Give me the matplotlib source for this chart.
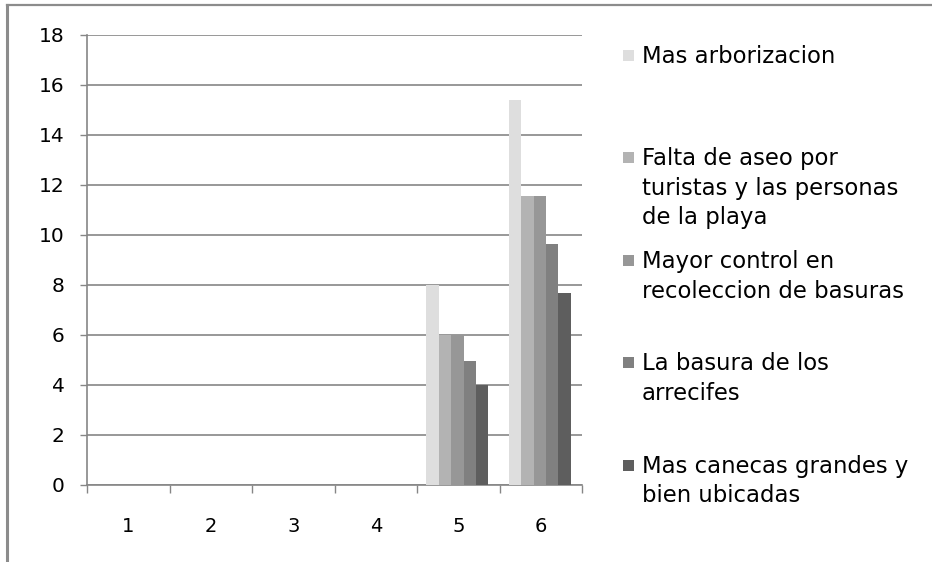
import numpy as np
import matplotlib
matplotlib.use("Agg")
import matplotlib.pyplot as plt
from matplotlib.lines import Line2D
from matplotlib.patches import Rectangle

# survey answers per group (values in %)
groups = ["1", "2", "3", "4", "5", "6"]
mas_arborizacion = [0, 0, 0, 0, 8.0, 15.4]
falta_aseo = [0, 0, 0, 0, 6.0, 11.55]
mayor_control = [0, 0, 0, 0, 6.0, 11.55]
basura_arrecifes = [0, 0, 0, 0, 4.95, 9.65]
mas_canecas = [0, 0, 0, 0, 4.0, 7.7]

series_labels = [
    "Mas arborizacion",
    "Falta de aseo por\nturistas y las personas\nde la playa",
    "Mayor control en\nrecoleccion de basuras",
    "La basura de los\narrecifes",
    "Mas canecas grandes y\nbien ubicadas",
]
series_values = [mas_arborizacion, falta_aseo, mayor_control,
                 basura_arrecifes, mas_canecas]
colors = ["#dedede", "#b3b3b3", "#979797", "#808080", "#5e5e5e"]

W, H = 932, 562
fig = plt.figure(figsize=(W / 100, H / 100), dpi=100)
ax = fig.add_axes([87 / W, 1 - 485 / H, (582 - 87) / W, (485 - 35) / H])

x = np.arange(1, len(groups) + 1)
bw = 0.15
for i, (vals, col) in enumerate(zip(series_values, colors)):
    ax.bar(x + (i - 2) * bw - 0.01, vals, width=bw, color=col, linewidth=0, zorder=3)

ax.set_xlim(0.5, len(groups) + 0.5)
ax.set_ylim(0, 18)
ax.set_yticks(np.arange(0, 19, 2))
ax.grid(axis="y", color="#868686", linewidth=1.2, zorder=0)

ax.set_xticks(x)
ax.set_xticklabels(groups)
ax.set_xticks(np.arange(0.5, len(groups) + 1, 1), minor=True)
ax.tick_params(axis="x", which="major", length=0, pad=23, labelsize=14)
ax.tick_params(axis="x", which="minor", length=6, width=1, color="#868686")
ax.tick_params(axis="y", length=5, width=1, color="#868686", pad=11, labelsize=14.5)

for side in ["top", "right"]:
    ax.spines[side].set_visible(False)
for side in ["left", "bottom"]:
    ax.spines[side].set_color("#868686")
    ax.spines[side].set_linewidth(1.2)

# legend drawn by hand, one block per series
first_line_y = [55, 157, 260, 362, 465]
line_step = 29.5
for label, col, y0 in zip(series_labels, colors, first_line_y):
    fig.patches.append(Rectangle((623 / W, 1 - (y0 + 6) / H), 11 / W, 11 / H,
                                 transform=fig.transFigure, facecolor=col,
                                 edgecolor="none"))
    for j, line in enumerate(label.split("\n")):
        yc = y0 + j * line_step
        fig.text(642 / W, 1 - (yc + 8) / H, line, fontsize=16.4,
                 va="baseline", ha="left", color="black")

# outer chart frame (left and top edges)
fig.lines.append(Line2D([6.5 / W, 6.5 / W], [0, 1 - 5 / H], transform=fig.transFigure,
                        color="#8c8c8c", linewidth=2.2))
fig.lines.append(Line2D([6.5 / W, 1], [1 - 5 / H, 1 - 5 / H], transform=fig.transFigure,
                        color="#8c8c8c", linewidth=1.6))

fig.savefig("out.png", dpi=100)
